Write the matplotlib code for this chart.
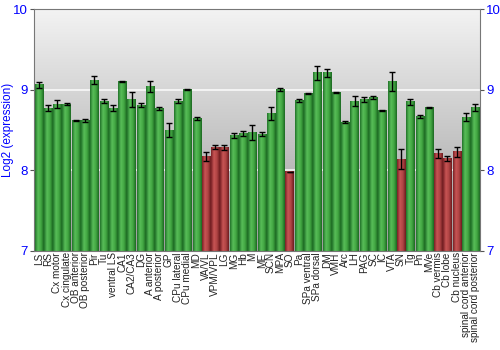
import numpy as np
import matplotlib.pyplot as plt
from matplotlib.colors import LinearSegmentedColormap

plt.rcParams['font.family'] = ['Liberation Sans', 'DejaVu Sans']

regions = ["LS", "RS", "Cx motor", "Cx cingulate", "OB anterior", "OB posterior",
           "Pir", "Tu", "ventral LS", "CA1", "CA2/CA3", "DG", "A anterior",
           "A posterior", "GP", "CPu lateral", "CPu medial", "MD", "VA/VL",
           "VPM/VPL", "LG", "MG", "Hb", "M", "ME", "SCN", "MPA", "SO", "Pa",
           "SPa ventral", "SPa dorsal", "DM", "VMH", "Arc", "LH", "PAG", "SC",
           "IC", "VTA", "SN", "Tg", "Pn", "MVe", "Cb vermis", "Cb lobe",
           "Cb nucleus", "spinal cord anterior", "spinal cord posterior"]
expr = [9.06, 8.77, 8.82, 8.82, 8.62, 8.62, 9.12, 8.86, 8.77, 9.10, 8.88, 8.81,
        9.04, 8.77, 8.50, 8.86, 9.00, 8.64, 8.17, 8.29, 8.28, 8.43, 8.46, 8.47,
        8.45, 8.71, 9.00, 7.98, 8.87, 8.95, 9.21, 9.21, 8.97, 8.60, 8.86, 8.88,
        8.90, 8.74, 9.10, 8.14, 8.85, 8.67, 8.78, 8.21, 8.15, 8.23, 8.66, 8.78]
err = [0.04, 0.04, 0.05, 0.01, 0.005, 0.02, 0.05, 0.03, 0.04, 0.01, 0.09, 0.03,
       0.07, 0.02, 0.09, 0.02, 0.005, 0.02, 0.06, 0.02, 0.03, 0.03, 0.03, 0.09,
       0.03, 0.08, 0.02, 0.005, 0.02, 0.005, 0.09, 0.05, 0.005, 0.01, 0.06, 0.03,
       0.02, 0.01, 0.12, 0.12, 0.04, 0.02, 0.01, 0.06, 0.03, 0.06, 0.05, 0.04]
low_cut = 8.35  # bars below this are drawn red

green = LinearSegmentedColormap.from_list("g", ["#23742a", "#58bd58", "#43a843", "#1c6a22"])
red = LinearSegmentedColormap.from_list("r", ["#7a2226", "#c85454", "#b04444", "#6e1c20"])
grad = np.linspace(0, 1, 32).reshape(1, -1)

fig = plt.figure(figsize=(5, 3.5), dpi=100)
ax = fig.add_axes([0.068, 0.283, 0.892, 0.691])

# background gradient
bg = LinearSegmentedColormap.from_list("bg", ["#9c9c9c", "#f3f3f3"])
ax.imshow(np.linspace(0, 1, 256).reshape(-1, 1), extent=[-0.5, len(regions) - 0.5, 7, 10],
          origin="lower", aspect="auto", cmap=bg, zorder=0)
for yv in [8, 9]:
    ax.axhline(yv, color="white", lw=1.2, alpha=0.85, zorder=1)

w = 0.88
for i, (v, e) in enumerate(zip(expr, err)):
    cm = red if v < low_cut else green
    ax.imshow(grad, extent=[i - w / 2, i + w / 2, 7, v], aspect="auto", cmap=cm, zorder=2)
    ax.errorbar(i, v, yerr=e, color="black", lw=1, capsize=2, capthick=1, zorder=3)

ax.set_xlim(-0.5, len(regions) - 0.5)
ax.set_ylim(7, 10)
ax.set_xticks(range(len(regions)))
ax.set_xticklabels(regions, rotation=90, fontsize=7.2, color="#222222")
ax.set_yticks([7, 8, 9, 10])
ax.tick_params(axis="y", colors="#555555", labelcolor="blue", labelsize=9.5, length=3,
               pad=1.5, right=True, labelright=True)
ax.tick_params(axis="x", length=0, pad=1)
ax.set_ylabel("Log2 (expression)", color="blue", fontsize=8.5, va="center")
ax.yaxis.set_label_coords(-0.058, 0.5)
for s in ax.spines.values():
    s.set_color("#777777")

fig.savefig("out.png", dpi=100)
